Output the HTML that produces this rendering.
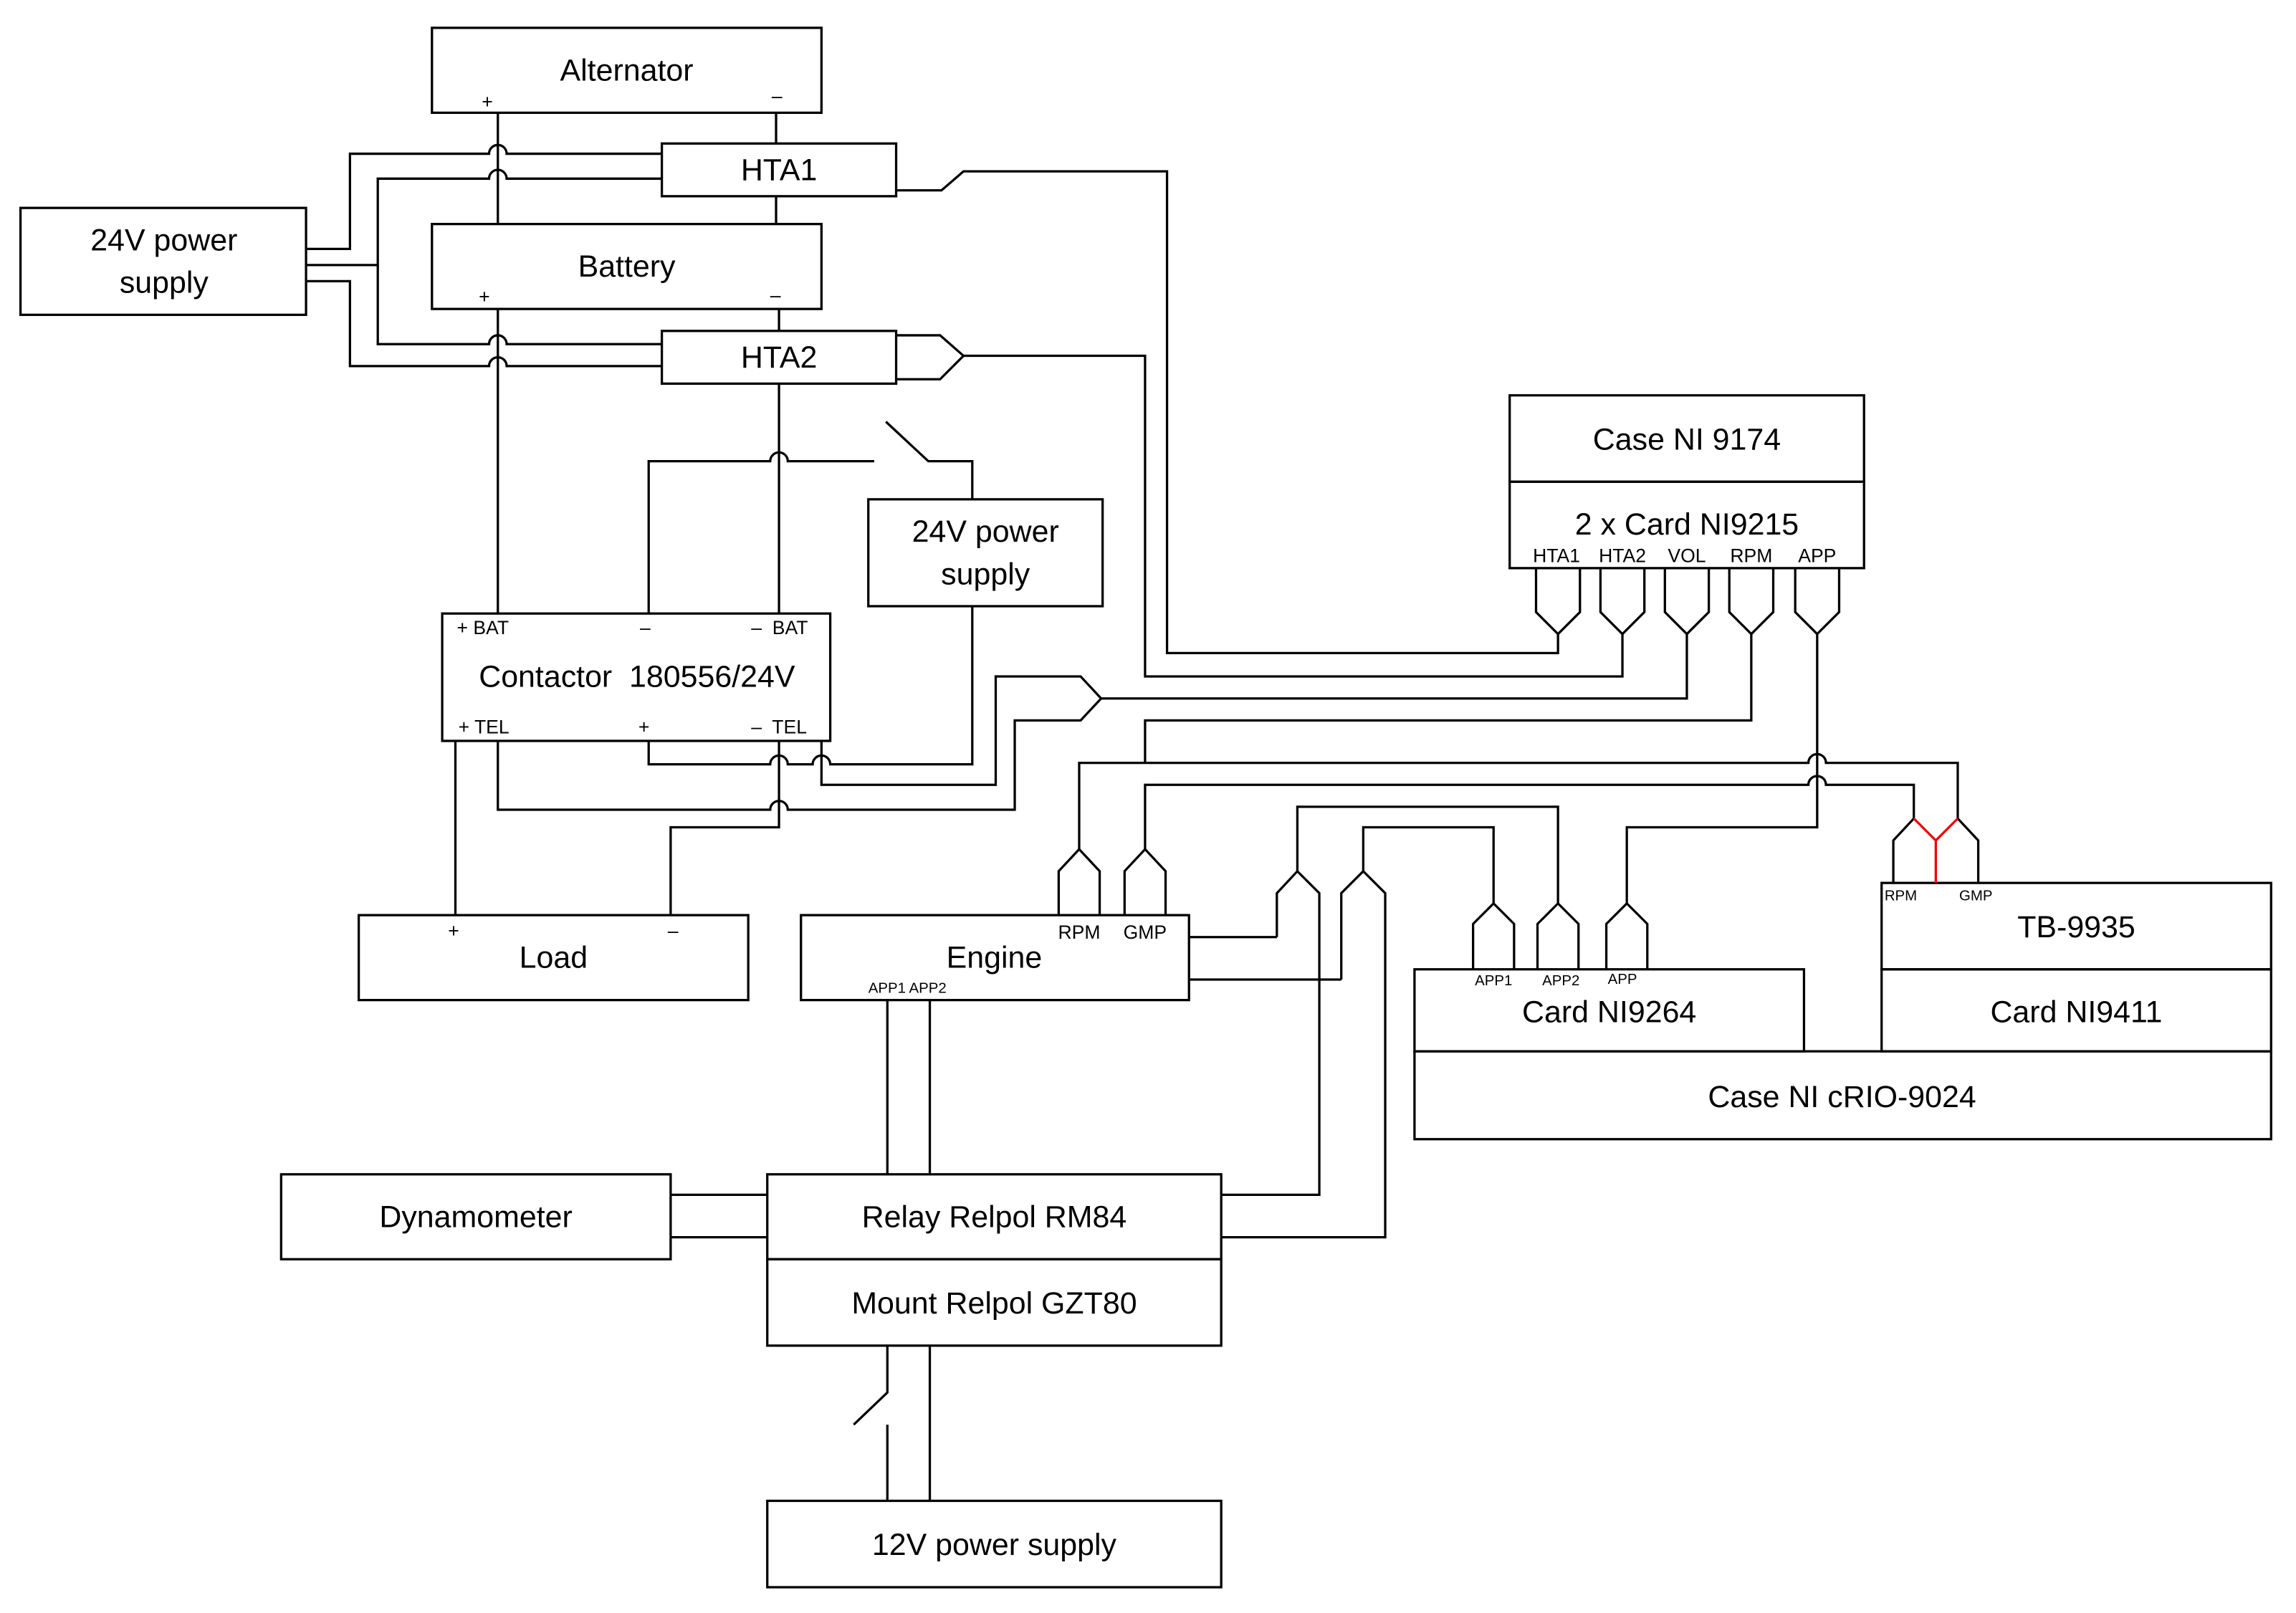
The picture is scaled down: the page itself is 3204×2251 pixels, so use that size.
<!DOCTYPE html>
<html><head><meta charset="utf-8"><style>
html,body{margin:0;padding:0;background:#fff;}
svg{display:block;}
text{font-family:"Liberation Sans",sans-serif;fill:#000;}
.b{font-size:21px;text-anchor:middle;}
.s{font-size:13px;}
.t{font-size:10px;}
</style></head><body>
<svg width="3204" height="2251" viewBox="0 0 1568 1101.6" xmlns="http://www.w3.org/2000/svg">
<g fill="none" stroke="#000" stroke-width="1.6">
<rect x="295" y="19" width="266" height="58"/>
<rect x="452" y="98" width="160" height="36"/>
<rect x="295" y="153" width="266" height="58"/>
<rect x="452" y="226" width="160" height="36"/>
<rect x="14" y="142" width="195" height="73"/>
<rect x="593" y="341" width="160" height="73"/>
<rect x="302" y="419" width="265" height="87"/>
<rect x="245" y="625" width="266" height="58"/>
<rect x="547" y="625" width="265" height="58"/>
<rect x="1031" y="270" width="242" height="59"/>
<rect x="1031" y="329" width="242" height="59"/>
<rect x="1285" y="603" width="266" height="59"/>
<rect x="1285" y="662" width="266" height="56"/>
<rect x="966" y="662" width="266" height="56"/>
<rect x="966" y="718" width="585" height="60"/>
<rect x="192" y="802" width="266" height="58"/>
<rect x="524" y="802" width="310" height="58"/>
<rect x="524" y="860" width="310" height="59"/>
<rect x="524" y="1025" width="310" height="59"/>

<path d="M340 77 V153"/>
<path d="M340 211 V419"/>
<path d="M530 77 V98 M530 134 V153 M532 211 V226"/>
<path d="M532 262 V419"/>
<path d="M209 170 H239 V105 H334 A6 6 0 0 1 346 105 H452"/>
<path d="M209 181 H258 V122 H334 A6 6 0 0 1 346 122 H452"/>
<path d="M258 181 V235 H334 A6 6 0 0 1 346 235 H452"/>
<path d="M209 192 H239 V250 H334 A6 6 0 0 1 346 250 H452"/>
<path d="M612 130 H643 L658 117 H797 V446 H1064 V433"/>
<path d="M612 229 H642 L658 243 L642 259 H612"/>
<path d="M658 243 H782 V462 H1108 V433"/>
<path d="M443 419 V315 H526 A6 6 0 0 1 538 315 H597"/>
<path d="M605 288 L634 315 H664 V341"/>
<path d="M664 414 V522 H567 A6 6 0 0 0 555 522 H538 A6 6 0 0 0 526 522 H443 V506"/>
<path d="M311 506 V625"/>
<path d="M532 506 V565 H458 V625"/>
<path d="M561 506 V536 H680 V462 H738 L752 477 L738 492 H693 V553 H538 A6 6 0 0 0 526 553 H340 V506"/>
<path d="M752 477 H1152 V433"/>
<path d="M1196 433 V492 H782 V521"/>
<path d="M737 580 V521 H1235 A6 6 0 0 1 1247 521 H1337 V559"/>
<path d="M782 580 V536 H1235 A6 6 0 0 1 1247 536 H1307 V559"/>
<path d="M1241 433 V565 H1111 V617"/>
<path d="M1064 617 V551 H886 V595"/>
<path d="M1020 617 V565 H931 V595"/>
<path d="M723 625 V595 L737 580 L751 595 V625"/>
<path d="M768 625 V595 L782 580 L796 595 V625"/>
<path d="M872 640 V610 L886 595 L901 610 V816 H834"/>
<path d="M872 640 H812"/>
<path d="M916 669 V610 L931 595 L946 610 V845 H834"/>
<path d="M916 669 H812"/>
<path d="M1006 662 V631 L1020 617 L1034 631 V662"/>
<path d="M1050 662 V631 L1064 617 L1078 631 V662"/>
<path d="M1097 662 V631 L1111 617 L1125 631 V662"/>
<path d="M1293 603 V574 L1307 559 M1351 603 V574 L1337 559"/>
<path d="M1049 388 V418 L1064 433 L1079 418 V388"/>
<path d="M1093 388 V418 L1108 433 L1123 418 V388"/>
<path d="M1137 388 V418 L1152 433 L1167 418 V388"/>
<path d="M1181 388 V418 L1196 433 L1211 418 V388"/>
<path d="M1226 388 V418 L1241 433 L1256 418 V388"/>
<path d="M606 683 V802 M635 683 V802"/>
<path d="M458 816 H524 M458 845 H524"/>
<path d="M606 919 V951 L583 973 M606 973 V1025 M635 919 V1025"/>
</g>
<path d="M1307 559 L1322 574 L1337 559 M1322 574 V603" fill="none" stroke="#e00" stroke-width="1.6"/>

<text class="b" x="428" y="55">Alternator</text>
<text class="s" x="329" y="74">+</text>
<text class="s" x="527" y="70">–</text>
<text class="b" x="532" y="123">HTA1</text>
<text class="b" x="428" y="189">Battery</text>
<text class="s" x="327" y="207">+</text>
<text class="s" x="526" y="206">–</text>
<text class="b" x="532" y="251">HTA2</text>
<text class="b" x="112" y="171">24V power</text>
<text class="b" x="112" y="200">supply</text>
<text class="b" x="673" y="370">24V power</text>
<text class="b" x="673" y="399">supply</text>
<text class="s" x="312" y="433">+ BAT</text>
<text class="s" x="437" y="433">–</text>
<text class="s" x="513" y="433">–&#160; BAT</text>
<text class="b" x="435" y="469">Contactor&#160; 180556/24V</text>
<text class="s" x="313" y="501">+ TEL</text>
<text class="s" x="436" y="501">+</text>
<text class="s" x="513" y="501">–&#160; TEL</text>
<text class="s" x="306" y="640">+</text>
<text class="s" x="456" y="640">–</text>
<text class="b" x="378" y="661">Load</text>
<text class="s" x="737" y="641" text-anchor="middle">RPM</text>
<text class="s" x="782" y="641" text-anchor="middle">GMP</text>
<text class="b" x="679" y="661">Engine</text>
<text class="t" x="593" y="678">APP1 APP2</text>
<text class="b" x="1152" y="307">Case NI 9174</text>
<text class="b" x="1152" y="365">2 x Card NI9215</text>
<text class="s" x="1063" y="384" text-anchor="middle">HTA1</text>
<text class="s" x="1108" y="384" text-anchor="middle">HTA2</text>
<text class="s" x="1152" y="384" text-anchor="middle">VOL</text>
<text class="s" x="1196" y="384" text-anchor="middle">RPM</text>
<text class="s" x="1241" y="384" text-anchor="middle">APP</text>
<text class="t" x="1287" y="615">RPM</text>
<text class="t" x="1338" y="615">GMP</text>
<text class="b" x="1418" y="640">TB-9935</text>
<text class="b" x="1418" y="698">Card NI9411</text>
<text class="t" x="1020" y="673" text-anchor="middle">APP1</text>
<text class="t" x="1066" y="673" text-anchor="middle">APP2</text>
<text class="t" x="1108" y="672" text-anchor="middle">APP</text>
<text class="b" x="1099" y="698">Card NI9264</text>
<text class="b" x="1258" y="756">Case NI cRIO-9024</text>
<text class="b" x="325" y="838">Dynamometer</text>
<text class="b" x="679" y="838">Relay Relpol RM84</text>
<text class="b" x="679" y="897">Mount Relpol GZT80</text>
<text class="b" x="679" y="1062">12V power supply</text>
</svg>
</body></html>
